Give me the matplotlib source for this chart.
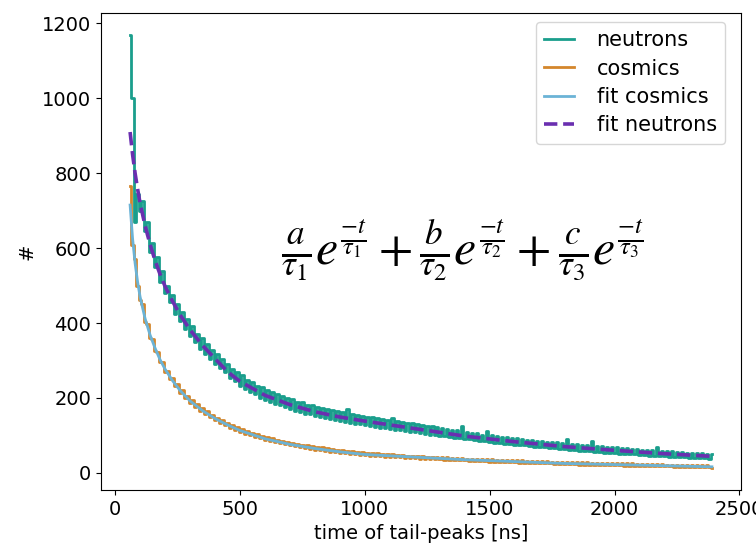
import numpy as np
import matplotlib
matplotlib.use('Agg')
import matplotlib.pyplot as plt

# histogram bins: 10 ns wide, first bin at 60 ns
bin_start = 60
bin_width = 10

neutrons = [1170, 1000, 670, 745, 700, 725, 645, 670, 590, 615, 550, 575, 510, 540, 480, 500, 455, 475, 425, 450,
            405, 430, 385, 412, 365, 392, 350, 372, 330, 360, 318, 345, 305, 328, 290, 318, 280, 305, 268, 290,
            252, 278, 245, 270, 232, 262, 225, 248, 215, 242, 210, 232, 200, 230, 194, 222, 190, 215, 184, 210,
            180, 205, 176, 200, 170, 196, 166, 190, 162, 188, 158, 182, 156, 180, 152, 176, 148, 174, 146, 170,
            144, 168, 140, 165, 138, 162, 136, 170, 133, 156, 131, 154, 130, 152, 127, 150, 125, 148, 123, 146,
            121, 145, 120, 142, 117, 146, 115, 138, 113, 136, 112, 134, 110, 132, 108, 130, 106, 128, 104, 126,
            102, 124, 101, 122, 99, 120, 97, 117, 95, 115, 94, 113, 92, 124, 90, 108, 89, 107, 88, 105,
            85, 102, 84, 112, 83, 100, 80, 98, 79, 96, 78, 95, 76, 93, 75, 92, 74, 90, 73, 88,
            71, 88, 70, 86, 69, 85, 68, 83, 66, 82, 65, 81, 64, 79, 63, 90, 62, 77, 60, 76,
            59, 75, 58, 74, 57, 84, 56, 72, 55, 71, 54, 70, 53, 69, 52, 68, 51, 67, 50, 66,
            49, 64, 49, 63, 48, 62, 47, 61, 46, 60, 46, 70, 45, 58, 44, 58, 43, 57, 42, 56,
            42, 55, 41, 54, 40, 54, 40, 53, 39, 52, 39, 51, 38, 50]

cosmics = [767, 607, 570, 500, 462, 450, 404, 398, 360, 358, 325, 322, 295, 295, 270, 272, 250, 252, 232, 236,
           214, 222, 200, 206, 186, 194, 176, 184, 166, 172, 156, 164, 148, 154, 140, 146, 133, 140, 127, 134,
           120, 128, 114, 122, 108, 116, 104, 112, 100, 106, 96, 104, 92, 98, 88, 96, 85, 92, 82, 88,
           79, 86, 76, 82, 73, 80, 71, 78, 69, 75, 66, 74, 64, 72, 62, 70, 61, 68, 59, 66,
           56, 63, 55, 62, 54, 60, 52, 59, 51, 57, 49, 56, 48, 55, 47, 54, 46, 53, 45, 52,
           44, 50, 43, 50, 42, 49, 42, 48, 41, 47, 40, 46, 40, 45, 39, 45, 38, 44, 38, 43,
           37, 43, 36, 42, 36, 41, 35, 41, 34, 40, 34, 39, 33, 39, 33, 38, 32, 38, 32, 37,
           31, 37, 31, 36, 30, 36, 30, 35, 29, 35, 29, 34, 28, 34, 28, 33, 27, 33, 27, 32,
           26, 32, 26, 31, 25, 31, 25, 31, 25, 30, 24, 30, 24, 30, 23, 29, 23, 29, 23, 28,
           22, 28, 22, 28, 22, 27, 21, 27, 21, 27, 21, 26, 20, 26, 20, 26, 20, 25, 19, 25,
           19, 25, 19, 24, 18, 24, 18, 24, 18, 23, 18, 23, 17, 23, 17, 22, 17, 22, 16, 22,
           16, 21, 16, 21, 16, 21, 15, 20, 15, 20, 15, 20, 15, 12]

fit_t = [60, 70, 80, 90, 100, 120, 140, 160, 180, 200, 230, 260, 300, 350,
         400, 450, 500, 600, 700, 800, 900, 1000, 1200, 1400, 1600, 1800,
         2000, 2200, 2390]
fit_neutrons = [910, 850, 800, 758, 720, 660, 610, 567, 530, 498, 458, 422,
                382, 340, 305, 270, 244, 207, 182, 163, 149, 138, 118, 98,
                83, 70, 60, 51, 44]
fit_cosmics = [715, 625, 560, 510, 470, 412, 368, 333, 302, 277, 246, 220,
               192, 166, 145, 128, 113, 91, 76, 65, 56, 49, 42, 35, 30, 25,
               22, 19, 16]

t = bin_start + bin_width * np.arange(len(neutrons))

plt.rcParams['font.size'] = 14
plt.rcParams['mathtext.fontset'] = 'stix'

fig = plt.figure(figsize=(7.56, 5.43), dpi=100)
ax = fig.add_axes([0.1336, 0.0976, 0.8466, 0.8785])

ax.plot(t, neutrons, color='#1a9e8c', lw=2.0, drawstyle='steps-mid', label='neutrons')
ax.plot(t, cosmics, color='#d4862c', lw=2.0, drawstyle='steps-mid', label='cosmics')
ax.plot(fit_t, fit_cosmics, color='#6bb3d6', lw=2.0, label='fit cosmics')
ax.plot(fit_t, fit_neutrons, color='#6a2fb0', lw=2.6, ls='--', label='fit neutrons')

ax.text(1392, 595,
        r'$\frac{a}{\tau_1}e^{\frac{-t}{\tau_1}}+\frac{b}{\tau_2}e^{\frac{-t}{\tau_2}}+\frac{c}{\tau_3}e^{\frac{-t}{\tau_3}}$',
        fontsize=36, ha='center', va='center')

ax.set_xlabel('time of tail-peaks [ns]')
ax.set_ylabel('#')
ax.set_xticks([0, 500, 1000, 1500, 2000, 2500])
ax.set_yticks([0, 200, 400, 600, 800, 1000, 1200])
ax.legend(loc='upper right', bbox_to_anchor=(0.975, 0.981), borderaxespad=0,
          fontsize=15, labelspacing=0.4, handlelength=1.4, handletextpad=1.1)

fig.savefig('out.png', dpi=100)
